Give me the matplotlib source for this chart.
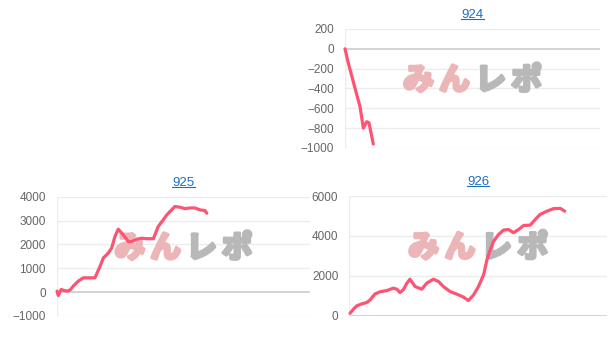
import matplotlib.pyplot as plt
import matplotlib.patheffects as pe
from matplotlib.lines import Line2D

########################################################
# DATA
########################################################

titles = ["924", "925", "926"]

x_924 = [0, 1.3, 5.9, 7.2, 8.5, 9.4, 11.1]
y_924 = [0, -145, -585, -800, -735, -745, -960]

x_925 = [0, 0.5, 1.6, 3.8, 5.1, 6.4, 8.4, 10.4, 13.0, 15.0,
         17.0, 18.3, 20.3, 21.6, 22.9, 24.2, 26.2, 28.2, 29.5, 31.5,
         33.5, 35.5, 38.1, 40.0, 42.0, 43.4, 45.3, 46.6, 48.6, 50.6,
         52.6, 54.5, 56.5, 58.5, 59.2]
y_925 = [42, -140, 110, 40, 80, 250, 460, 600, 600, 600,
         1080, 1430, 1640, 1850, 2330, 2640, 2400, 2120, 2120, 2220,
         2260, 2240, 2240, 2750, 3030, 3240, 3450, 3590, 3560, 3500,
         3530, 3530, 3450, 3420, 3310]

x_926 = [0.2, 1.5, 2.8, 4.7, 6.7, 8.0, 9.9, 11.9, 14.5, 17.0,
         18.4, 19.6, 20.9, 22.3, 23.5, 25.5, 28.1, 30.0, 32.6, 34.6,
         36.5, 39.1, 41.7, 44.3, 46.2, 48.2, 50.1, 52.1, 53.4, 54.7,
         56.0, 57.9, 59.8, 61.8, 63.7, 65.7, 67.6, 70.2, 72.2, 74.1,
         76.7, 79.3, 81.9, 83.6]
y_926 = [120, 320, 490, 590, 660, 790, 1090, 1200, 1260, 1380,
         1330, 1160, 1300, 1630, 1830, 1460, 1330, 1630, 1830, 1710,
         1460, 1210, 1080, 930, 760, 1040, 1460, 2050, 2810, 3310,
         3730, 4070, 4290, 4320, 4160, 4320, 4520, 4540, 4830, 5080,
         5240, 5370, 5380, 5240]

yticks_924 = [-1000, -800, -600, -400, -200, 0, 200]
yticks_925 = [-1000, 0, 1000, 2000, 3000, 4000]
yticks_926 = [0, 2000, 4000, 6000]

watermark = ["み", "ん", "レ", "ポ"]

########################################################
# STYLE
########################################################

LINE_COLOR = "#fd5473"
TITLE_COLOR = "#1a6fc4"
TICK_COLOR = "#666666"
GRID_COLOR = "#ececec"
ZERO_COLOR = "#cccccc"

plt.rcParams["font.family"] = ["Liberation Sans", "DejaVu Sans"]

fig = plt.figure(figsize=(6.13, 3.56), dpi=100)

# [left, bottom, width, height] in figure fraction
rects = [
    [0.5628, 0.5843, 0.4160, 0.3343],
    [0.0930, 0.1124, 0.4127, 0.3350],
    [0.5701, 0.1132, 0.4200, 0.3362],
]

series = [(x_924, y_924, yticks_924),
          (x_925, y_925, yticks_925),
          (x_926, y_926, yticks_926)]

axes = []

for rect, title, (xs, ys, yt) in zip(rects, titles, series):

    ax = fig.add_axes(rect)
    axes.append(ax)

    ax.set_xlim(0, 100)
    ax.set_ylim(yt[0], yt[-1])
    ax.set_yticks(yt)
    ax.set_xticks([])

    for v in yt:
        ax.axhline(v, color=ZERO_COLOR if v == 0 else GRID_COLOR,
                   linewidth=1.2 if v == 0 else 1.0, zorder=1)

    ax.axvline(0, color=GRID_COLOR, linewidth=1.0, zorder=1)

    for s in ax.spines.values():
        s.set_visible(False)

    ax.tick_params(axis="y", length=0, pad=8, labelsize=8.5,
                   labelcolor=TICK_COLOR)

    # watermark
    offsets = [-0.212, -0.071, 0.071, 0.212]
    for ch, dx in zip(watermark, offsets):
        col = "#ecb6b9" if ch in "みん" else "#b8b8b8"
        ax.text(0.5 + dx, 0.567, ch,
                transform=ax.transAxes,
                ha="center", va="center",
                fontsize=22, fontweight="bold",
                family=["Noto Sans CJK JP", "DejaVu Sans"],
                color=col,
                path_effects=[pe.withStroke(linewidth=2.5, foreground=col)],
                zorder=2)

    ax.plot(xs, ys, color=LINE_COLOR, linewidth=2.3,
            solid_joinstyle="round", solid_capstyle="round",
            zorder=3, clip_on=False)

    ax.set_title(title, color=TITLE_COLOR, fontsize=9.5, pad=8)

# underline the titles (they are links)
fig.canvas.draw()
renderer = fig.canvas.get_renderer()
inv = fig.transFigure.inverted()

for ax in axes:
    bb = ax.title.get_window_extent(renderer)
    (x0, y0), (x1, y1) = inv.transform([(bb.x0, bb.y0 + 1.5),
                                        (bb.x1, bb.y0 + 1.5)])
    fig.add_artist(Line2D([x0, x1], [y0, y1], color=TITLE_COLOR,
                          linewidth=0.8, transform=fig.transFigure))

fig.savefig("out.png", dpi=100)
